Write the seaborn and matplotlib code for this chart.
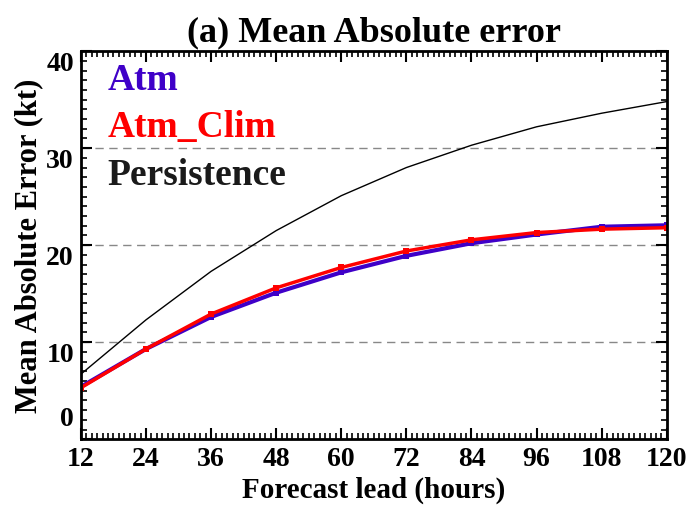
import numpy as np
import pandas as pd
import matplotlib
matplotlib.use("Agg")
import matplotlib.pyplot as plt
import matplotlib.transforms as mtransforms
import seaborn as sns
from matplotlib.ticker import MultipleLocator

leads = [12, 24, 36, 48, 60, 72, 84, 96, 108, 120]
atm = [5.4, 9.3, 12.6, 15.1, 17.2, 18.9, 20.2, 21.1, 21.9, 22.05]
atm_clim = [5.3, 9.3, 12.9, 15.6, 17.7, 19.4, 20.55, 21.3, 21.65, 21.8]
persistence = [6.7, 12.3, 17.3, 21.5, 25.1, 28.0, 30.3, 32.2, 33.6, 34.8]

xticks = [12, 24, 36, 48, 60, 72, 84, 96, 108, 120]
yticks = [0, 10, 20, 30, 40]

sns.set_style("ticks", {'text.color': 'black', 'axes.labelcolor': 'black',
                        'xtick.color': 'black', 'ytick.color': 'black',
                        'axes.edgecolor': 'black'})
plt.rcParams['font.family'] = ['Liberation Serif', 'DejaVu Serif']
plt.rcParams['font.weight'] = 'bold'

fig = plt.figure(figsize=(6.91, 5.06), dpi=100)
ax = fig.add_axes([0.117, 0.130, 0.848, 0.767])

for yv in [10, 20, 30]:
    ax.axhline(yv, color='#888888', lw=1.0, ls=(0, (6, 4)), zorder=0)

sns.lineplot(x=leads, y=persistence, ax=ax, color='black', lw=1.0)
sns.lineplot(x=leads, y=atm, ax=ax, color='#3f00c8', lw=3.0,
             marker='s', markersize=5, markeredgewidth=0)
sns.lineplot(x=leads, y=atm_clim, ax=ax, color='#ff0000', lw=2.5,
             marker='s', markersize=5, markeredgewidth=0)

ax.set_xlim(12, 120)
ax.set_ylim(0, 40)
ax.set_xticks(xticks)
ax.set_yticks(yticks)
ax.xaxis.set_minor_locator(MultipleLocator(1))
ax.yaxis.set_minor_locator(MultipleLocator(1))
ax.tick_params(which='major', direction='in', length=8, width=1.5,
               top=True, right=True, labelsize=20, pad=5)
ax.tick_params(which='minor', direction='in', length=4, width=1.2,
               top=True, right=True)
for lab in ax.get_xticklabels() + ax.get_yticklabels():
    lab.set_fontweight('bold')
ylabs = ax.get_yticklabels()
for lab in ylabs:
    lab.set_verticalalignment('top')
ylabs[0].set_verticalalignment('bottom')
ylabs[0].set_transform(ylabs[0].get_transform() +
                       mtransforms.ScaledTranslation(0, 0.08, fig.dpi_scale_trans))
for sp in ax.spines.values():
    sp.set_linewidth(2)
    sp.set_visible(True)

ax.set_xlabel('Forecast lead (hours)', fontsize=21, fontweight='bold', labelpad=3)
ax.set_ylabel('Mean Absolute Error (kt)', fontsize=22, fontweight='bold', labelpad=2)
ax.set_title('(a) Mean Absolute error', fontsize=26, fontweight='bold', pad=8)

ax.text(0.046, 0.928, 'Atm', transform=ax.transAxes, color='#3f00c8',
        fontsize=27, fontweight='bold', va='center')
ax.text(0.046, 0.807, 'Atm_Clim', transform=ax.transAxes, color='#ff0000',
        fontsize=27, fontweight='bold', va='center')
ax.text(0.046, 0.683, 'Persistence', transform=ax.transAxes, color='#1a1a1a',
        fontsize=27, fontweight='bold', va='center')

fig.savefig('out.png', dpi=100)
